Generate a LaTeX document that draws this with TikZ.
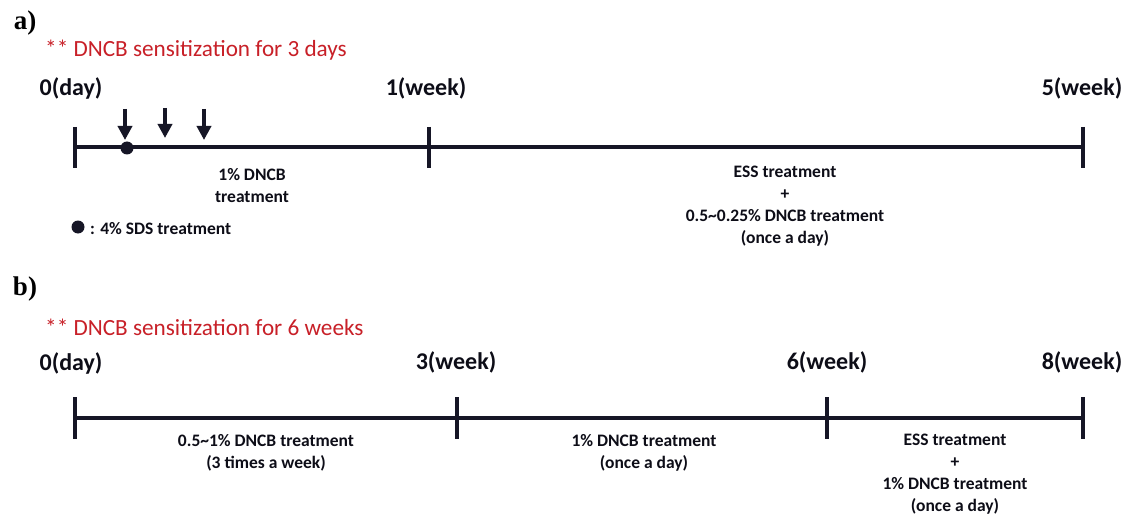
\documentclass[tikz,border=0pt]{standalone}
\usepackage{fontspec}
\setmainfont{Carlito}
\newfontfamily\panelfont{Liberation Serif}
\usetikzlibrary{arrows.meta}
\definecolor{ink}{RGB}{22,22,38}
\definecolor{redtxt}{RGB}{200,32,40}
\tikzset{
  tline/.style={line width=4.5pt, draw=ink},
  tickmark/.style={line width=4.5pt, draw=ink},
  panel/.style={font=\panelfont\bfseries\fontsize{27}{27}\selectfont, inner sep=0pt},
  redtitle/.style={font=\fontsize{23.2}{26}\selectfont, text=redtxt, anchor=west, inner sep=0pt},
  daylbl/.style={font=\bfseries\fontsize{24}{28}\selectfont, text=ink!60!black, inner sep=0pt},
  txt/.style={font=\bfseries\fontsize{17.5}{22}\selectfont, text=ink!60!black, align=center, inner sep=0pt},
  downarrow/.style={-{Triangle[width=14pt,length=14pt]}, line width=3.5pt, draw=ink},
}
\begin{document}
\begin{tikzpicture}[x=1pt,y=-1pt]
\fill[white] (0,0) rectangle (1138,516);
\useasboundingbox (0,0) rectangle (1138,516);

% ---------- panel a ----------
\node[panel] (pa) at (25,23) {a)};
\node[redtitle] (ta) at (45,50) {** DNCB sensitization for 3 days};
\node[daylbl] (la0) at (71,88) {0(day)};
\node[daylbl] (la1) at (426,88) {1(week)};
\node[daylbl] (la5) at (1082,88) {5(week)};

\coordinate (a0) at (75,147);
\coordinate (a1) at (429,147);
\coordinate (a5) at (1083,147);
\draw[tline] (a0) -- (a5);
\draw[tickmark] (75,127) -- (75,168);
\draw[tickmark] (429,127) -- (429,168);
\draw[tickmark] (1083,127) -- (1083,168);

\coordinate (s1) at (125,109); \coordinate (e1) at (125,140);
\coordinate (s2) at (165,108); \coordinate (e2) at (165,138);
\coordinate (s3) at (204,109); \coordinate (e3) at (204,140);
\draw[downarrow] (s1) -- (e1);
\draw[downarrow] (s2) -- (e2);
\draw[downarrow] (s3) -- (e3);
\fill[ink] (127,148) circle (6.5pt);

\node[txt] (da) at (252,186) {1\% DNCB\\treatment};
\node[txt] (ea) at (785,206) {ESS treatment\\+\\0.5\textasciitilde0.25\% DNCB treatment\\(once a day)};

\fill[ink] (78,227) circle (6.5pt);
\node[txt, anchor=west] (lg) at (90,229) {: 4\% SDS treatment};

% ---------- panel b ----------
\node[panel] (pb) at (25,289) {b)};
\node[redtitle] (tb) at (45,327) {** DNCB sensitization for 6 weeks};
\node[daylbl] (lb0) at (71,363) {0(day)};
\node[daylbl] (lb3) at (456,362) {3(week)};
\node[daylbl] (lb6) at (827,362) {6(week)};
\node[daylbl] (lb8) at (1082,362) {8(week)};

\coordinate (b0) at (75,418);
\coordinate (b8) at (1083,418);
\draw[tline] (b0) -- (b8);
\draw[tickmark] (75,397) -- (75,439);
\draw[tickmark] (457,397) -- (457,439);
\draw[tickmark] (827,397) -- (827,439);
\draw[tickmark] (1083,397) -- (1083,439);

\node[txt] (db1) at (266,453) {0.5\textasciitilde1\% DNCB treatment\\(3 times a week)};
\node[txt] (db2) at (644,453) {1\% DNCB treatment\\(once a day)};
\node[txt] (db3) at (955,474) {ESS treatment\\+\\1\% DNCB treatment\\(once a day)};
\end{tikzpicture}
\end{document}
